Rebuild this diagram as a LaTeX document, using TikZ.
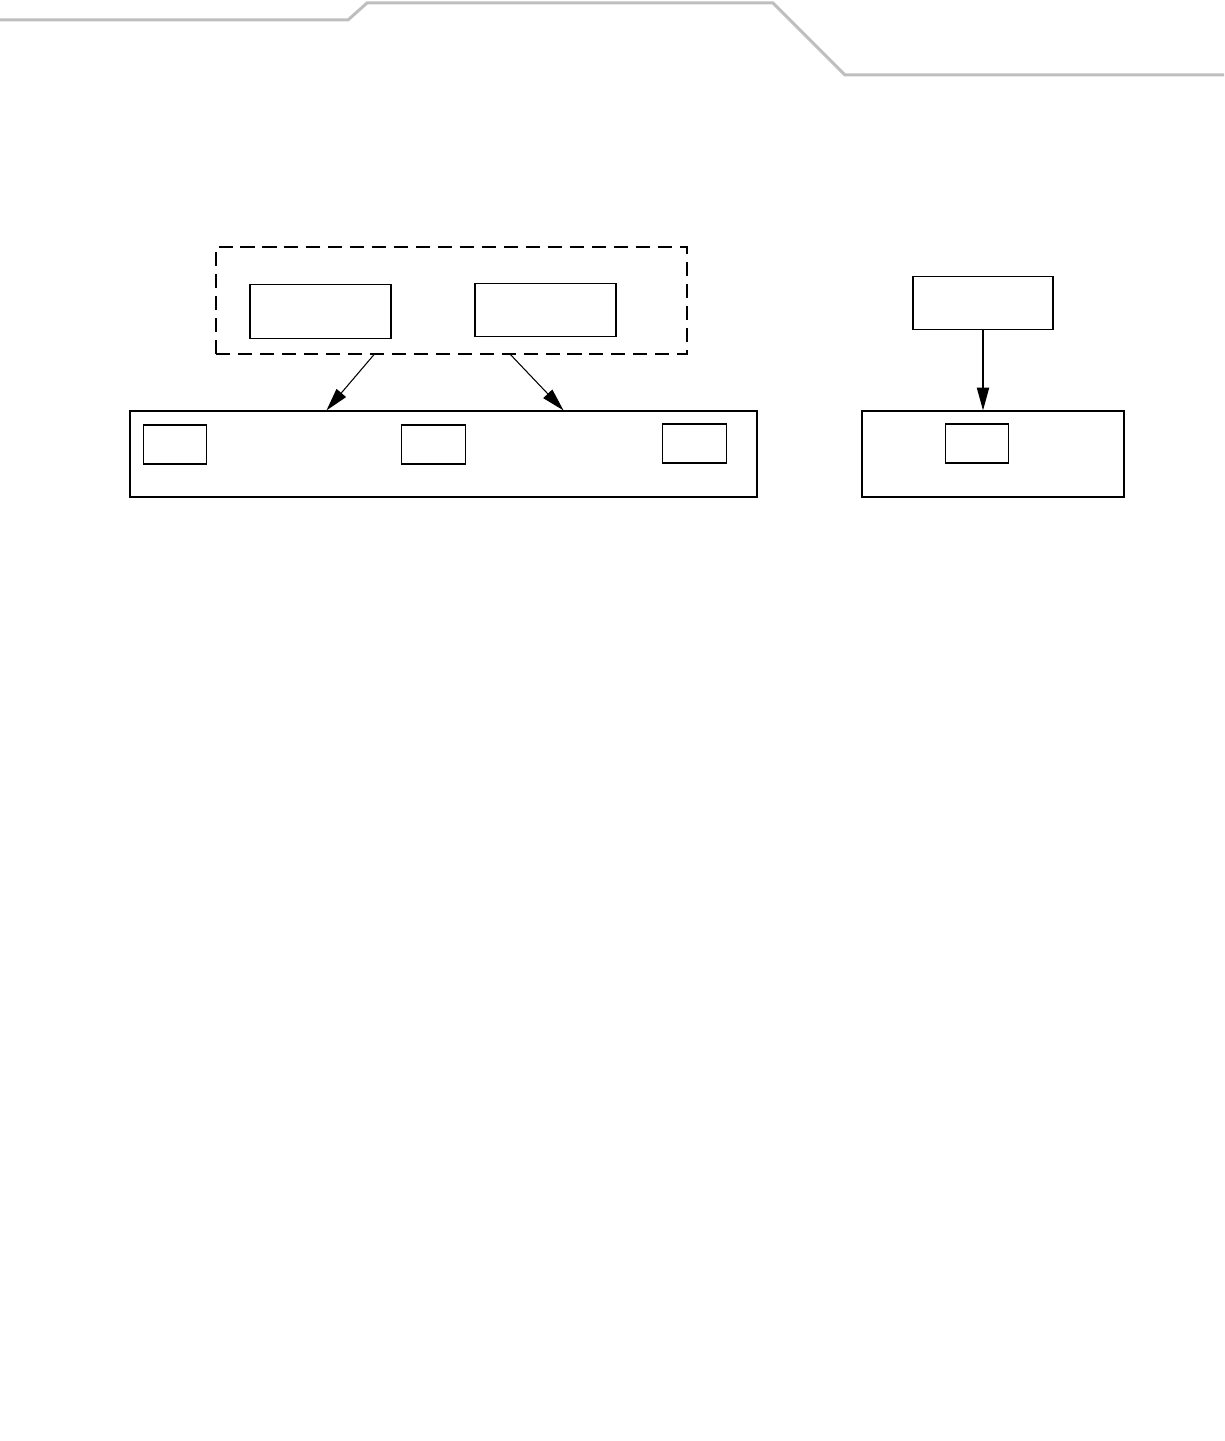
\documentclass[tikz,border=0pt]{standalone}
\usepackage{tikz}
\usetikzlibrary{positioning,arrows.meta}
\definecolor{headgray}{HTML}{BEBEBE}
\tikzset{
  flowarrow/.style={-{Triangle[length=13pt, width=7pt]}, line width=0.6pt},
  unitbox/.style={draw, line width=0.7pt, minimum width=2.82cm, minimum height=1.07cm, inner sep=0pt},
  slotbox/.style={draw, line width=0.7pt, minimum width=1.27cm, minimum height=0.78cm, inner sep=0pt},
  busbox/.style={draw, line width=0.7pt, minimum height=1.72cm, inner sep=0pt},
  groupbox/.style={draw, line width=0.7pt, dash pattern=on 8pt off 4.5pt, minimum width=9.42cm, minimum height=2.14cm, inner sep=0pt},
  headline/.style={draw=headgray, line width=1.7pt}
}

\begin{document}
\begin{tikzpicture}
      \useasboundingbox (0,0) rectangle (24.48,-28.82);
      % page header
      \draw[headline] (0,-0.40) -- (6.96,-0.40) -- (7.34,-0.06) -- (15.46,-0.06) -- (16.90,-1.50) -- (24.48,-1.50);
      % left group
      \node[groupbox] (grp) at (9.03,-6.01) {};
      \node[unitbox] (u1) at (6.41,-6.23) {};
      \node[unitbox] (u2) at (10.91,-6.20) {};
      \node[busbox, minimum width=12.54cm] (bus) at (8.87,-9.08) {};
      \node[slotbox] (s1) at (3.50,-8.89) {};
      \node[slotbox] (s2) at (8.67,-8.89) {};
      \node[slotbox] (s3) at (13.89,-8.87) {};
      \draw[flowarrow] (grp.south -| 7.48,0) -- (bus.north -| 6.53,0);
      \draw[flowarrow] (grp.south -| 10.21,0) -- (bus.north -| 11.27,0);
      % right group
      \node[unitbox, minimum width=2.80cm] (u3) at (19.66,-6.06) {};
      \node[busbox, minimum width=5.24cm] (host) at (19.86,-9.08) {};
      \node[slotbox] (s4) at (19.54,-8.87) {};
      \draw[flowarrow] (u3.south) -- (host.north -| u3.south);
    \end{tikzpicture}
\end{document}
